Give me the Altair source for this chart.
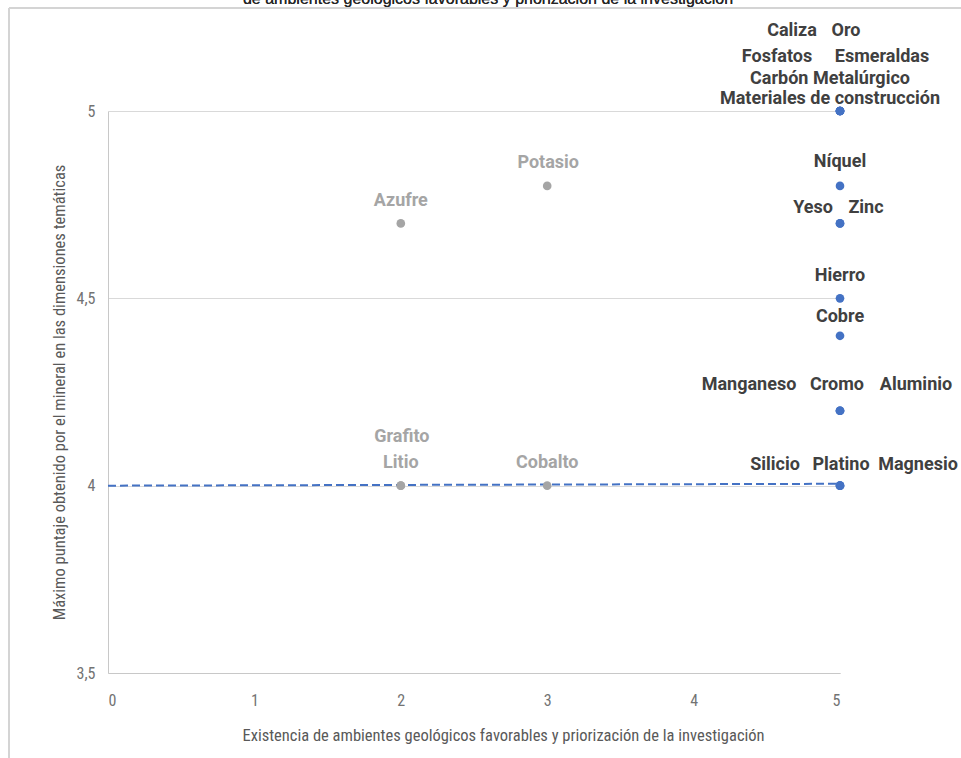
import altair as alt
import pandas as pd

# Minerals: favourable geological settings (x) vs. maximum thematic score (y)
minerales = [
    "Materiales de construcción", "Carbón Metalúrgico", "Fosfatos", "Esmeraldas",
    "Caliza", "Oro", "Níquel", "Yeso", "Zinc", "Hierro", "Cobre", "Manganeso",
    "Cromo", "Aluminio", "Silicio", "Platino", "Magnesio",
    "Azufre", "Potasio", "Grafito", "Litio", "Cobalto",
]
ambientes = [5, 5, 5, 5, 5, 5, 5, 5, 5, 5, 5, 5, 5, 5, 5, 5, 5,
             2, 3, 2, 2, 3]
puntaje = [5, 5, 5, 5, 5, 5, 4.8, 4.7, 4.7, 4.5, 4.4, 4.2, 4.2, 4.2, 4, 4, 4,
           4.7, 4.8, 4, 4, 4]
grupo = ["Priorizado"] * 17 + ["Otro"] * 5

# Linear trend of the prioritised series
tend_x = [0, 5]
tend_y = [4.0, 4.005]

# Label offsets (pixels) relative to each point
lab_dx = [-10, -10, -63, 42, -48, 6, 0, -27, 26, 0, 0, -91, -3, 76, -65, 1, 78,
          0, 1, 1, 0, 0]
lab_dy = [-12, -32, -54, -54, -80, -80, -24, -15, -15, -22, -19, -26, -26, -26,
          -21, -21, -21, -22, -23, -49, -23, -23]

AZUL = "#4472C4"
GRIS = "#A5A5A5"
EJE = "#737373"
NARROW = "Liberation Sans Narrow, Arial Narrow, Roboto Condensed, Liberation Sans, sans-serif"

df = pd.DataFrame({"mineral": minerales, "ambientes": ambientes,
                   "puntaje": puntaje, "grupo": grupo})
tend = pd.DataFrame({"ambientes": tend_x, "puntaje": tend_y})

x_enc = alt.X(
    "ambientes:Q",
    scale=alt.Scale(domain=[0, 5], nice=False, zero=False),
    axis=alt.Axis(
        values=[0, 1, 2, 3, 4, 5], grid=False, ticks=False,
        domainColor="#C8C8C8", domainWidth=1,
        labelExpr="toString(datum.value)",
        labelFont=NARROW, labelFontSize=16, labelColor=EJE,
        labelPadding=19,
        title="Existencia de ambientes geológicos favorables y priorización de la investigación",
        titleFont=NARROW, titleFontSize=16.5, titleFontWeight="normal",
        titleColor="#595959", titleX=395, titleY=62, titleBaseline="middle",
    ),
)
y_enc = alt.Y(
    "puntaje:Q",
    scale=alt.Scale(domain=[3.5, 5], nice=False, zero=False),
    axis=alt.Axis(
        values=[3.5, 4, 4.5, 5], ticks=False, grid=True,
        gridColor="#D9D9D9", gridWidth=1,
        domainColor="#C8C8C8", domainWidth=1,
        labelExpr="replace(toString(datum.value), '.', ',')",
        labelFont=NARROW, labelFontSize=16, labelColor=EJE,
        labelPadding=13,
        title="Máximo puntaje obtenido por el mineral en las dimensiones temáticas",
        titleFont=NARROW, titleFontSize=16.5, titleFontWeight="normal",
        titleColor="#595959", titleX=-49, titleBaseline="middle",
    ),
)

color_scale = alt.Scale(domain=["Priorizado", "Otro"], range=[AZUL, GRIS])

puntos = alt.Chart(df).mark_circle(size=75, opacity=1).encode(
    x=x_enc, y=y_enc,
    color=alt.Color("grupo:N", scale=color_scale, legend=None),
)

linea = alt.Chart(tend).mark_line(
    color=AZUL, strokeWidth=2, strokeDash=[8, 4]
).encode(x="ambientes:Q", y="puntaje:Q")

etiquetas = []
for i, nombre in enumerate(minerales):
    fila = df.iloc[[i]]
    etiquetas.append(
        alt.Chart(fila).mark_text(
            font="Roboto", fontSize=18, fontWeight="bold",
            color="#404040" if grupo[i] == "Priorizado" else GRIS,
            align="center", baseline="middle",
            dx=lab_dx[i], dy=lab_dy[i],
        ).encode(x="ambientes:Q", y="puntaje:Q", text="mineral:N")
    )

# Chart area frame (top and left edges)
marco_sup = alt.Chart(tend).mark_rule(color="#D4D4D4", strokeWidth=2).encode(
    x=alt.value(-99), x2=alt.value(900), y=alt.value(-103)
)
marco_izq = alt.Chart(tend).mark_rule(color="#D4D4D4", strokeWidth=2).encode(
    x=alt.value(-99), y=alt.value(-103), y2=alt.value(700)
)

titulo = alt.Chart(tend).mark_text(
    font="Liberation Sans", fontSize=16, fontWeight="normal", color="#262626",
    align="center", baseline="alphabetic",
).encode(
    x=alt.value(380), y=alt.value(-107),
    text=alt.value("de ambientes geológicos favorables y priorización de la investigación"),
)

chart = alt.layer(
    marco_sup, marco_izq, titulo, linea, puntos, *etiquetas
).properties(
    width=732, height=562,
    autosize=alt.AutoSizeParams(type="none"),
    padding={"left": 108, "top": 111, "right": 121, "bottom": 85},
    background="white",
).configure_view(stroke=None)

chart.save("out.html", embed_options={"renderer": "svg", "actions": False})
